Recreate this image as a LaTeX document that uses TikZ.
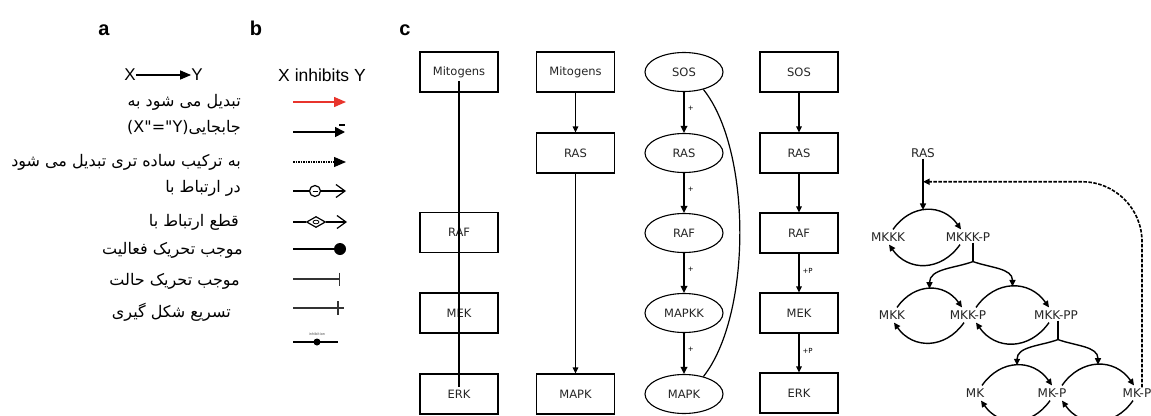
\documentclass[tikz,border=0pt]{standalone}
\usepackage{fontspec}
\setmainfont{DejaVu Sans}
\newfontfamily\arabicfont[Script=Arabic]{DejaVu Sans}
\newfontfamily\lsans{Liberation Sans}
\TeXXeTstate=1
\usetikzlibrary{arrows.meta,shapes.geometric,calc}
\begin{document}
\begin{tikzpicture}[x=1pt,y=1pt,
  boxn/.style={draw, line width=1.1pt, minimum width=78pt, minimum height=40pt, inner sep=0pt, font=\fontsize{11.5}{13}\selectfont, text=black!85},
  elln/.style={ellipse, draw, line width=1.1pt, minimum width=78pt, minimum height=39pt, inner sep=0pt, font=\fontsize{11.5}{13}\selectfont, text=black!85},
  netn/.style={inner sep=1pt, font=\fontsize{12}{13}\selectfont, text=black!85},
  arr/.style={-{Triangle[length=6pt,width=5.5pt]}, line width=1.1pt},
  narr/.style={-{Triangle[length=6.5pt,width=6pt]}, line width=1.4pt},
  arrb/.style={-{Triangle[length=7pt,width=6.5pt]}, line width=1.8pt},
  plusl/.style={font=\fontsize{7}{8}\selectfont, inner sep=1pt},
  fatext/.style={anchor=east, inner sep=0pt, font=\arabicfont\fontsize{16}{18}\selectfont},
  panl/.style={anchor=base, font=\lsans\bfseries\fontsize{20}{22}\selectfont},
  leg/.style={line width=1.3pt}
]
\useasboundingbox (0,0) rectangle (1151,-415);
\fill[white] (0,0) rectangle (1151,-415);

% panel letters
\node[panl] (pa) at (104,-35) {a};
\node[panl] (pb) at (256,-35) {b};
\node[panl] (pc) at (405,-35) {c};

% panel a
\node[font=\lsans\fontsize{17}{19}\selectfont, inner sep=0pt] (xa) at (130,-75) {X};
\node[font=\lsans\fontsize{17}{19}\selectfont, inner sep=0pt] (ya) at (197,-75) {Y};
\draw[-{Triangle[length=11pt,width=9pt]}, line width=1.2pt] (xa.east) -- (ya.west);

\node[fatext] (t1) at (241,-102) {\beginR تبدیل می شود به\endR};
\node[fatext] (t2) at (241,-128) {\beginR جابجایی\beginL(X"="Y)\endL\endR};
\node[fatext] (t3) at (241,-162) {\beginR به ترکیب ساده تری تبدیل می شود\endR};
\node[fatext] (t4) at (241,-188) {\beginR در ارتباط با\endR};
\node[fatext] (t5) at (239,-222) {\beginR قطع ارتباط با\endR};
\node[fatext] (t6) at (243,-250) {\beginR موجب تحریک فعالیت\endR};
\node[fatext] (t7) at (240,-281) {\beginR موجب تحریک حالت\endR};
\node[fatext] (t8) at (231,-312) {\beginR تسریع شکل گیری\endR};

% panel b
\node[font=\lsans\fontsize{17.5}{19}\selectfont, inner sep=0pt] (xib) at (322,-75) {X inhibits Y};
% 1 red
\coordinate (l1s) at (293,-102); \coordinate (l1e) at (346,-102);
\draw[-{Triangle[length=12pt,width=10pt]}, line width=1.4pt, color={rgb,255:red,232;green,52;blue,44}] (l1s) -- (l1e);
% 2 black with bar
\coordinate (l2s) at (293,-132); \coordinate (l2e) at (345,-132);
\draw[-{Triangle[length=10pt,width=10pt]}, line width=1.6pt] (l2s) -- (l2e);
\coordinate (l2a) at (339,-125); \coordinate (l2b) at (345,-125);
\draw[line width=1.6pt] (l2a) -- (l2b);
% 3 dotted
\coordinate (l3s) at (293,-162); \coordinate (l3e) at (346,-162);
\draw[-{Triangle[length=12pt,width=10pt]}, line width=1.2pt, dash pattern=on 1.5pt off 1pt] (l3s) -- (l3e);
% 4 circle minus
\node[circle, draw, line width=1.2pt, minimum size=11pt, inner sep=0pt] (l4c) at (315,-191) {};
\coordinate (l4s) at (293,-191); \coordinate (l4e) at (346,-191);
\draw[leg] (l4s) -- (l4c.west);
\draw[leg, -{Straight Barb[length=9pt,width=13pt,line width=1.2pt]}] (l4c.east) -- (l4e);
\draw[line width=1pt] ([xshift=-2.5pt]l4c.center) -- ([xshift=2.5pt]l4c.center);
% 5 diamond
\node[diamond, draw, line width=1.2pt, minimum width=19pt, minimum height=11pt, inner sep=0pt, aspect=1.8] (l5d) at (316,-222) {};
\coordinate (l5s) at (293,-222); \coordinate (l5e) at (347,-222);
\draw[leg] (l5s) -- (l5d.west);
\draw[leg, -{Straight Barb[length=9pt,width=13pt,line width=1.2pt]}] (l5d.east) -- (l5e);
\draw[line width=0.8pt] (l5d.center) ellipse (3pt and 1.8pt);
% 6 filled circle
\coordinate (l6s) at (293,-249);
\node[circle, fill, minimum size=12pt, inner sep=0pt] (l6c) at (340,-249) {};
\draw[line width=1.5pt] (l6s) -- (l6c);
% 7 bar
\coordinate (l7s) at (293,-279); \coordinate (l7e) at (340,-279);
\draw[line width=1.1pt, black!80, -{Bar[width=13pt,line width=1.3pt]}] (l7s) -- (l7e);
% 8 cross
\coordinate (l8s) at (293,-308); \coordinate (l8e) at (344,-308);
\draw[line width=1.1pt, black!80] (l8s) -- (l8e);
\coordinate (l8a) at (338,-301); \coordinate (l8b) at (338,-315);
\draw[line width=1.3pt, black!80] (l8a) -- (l8b);
% 9 inhibition
\coordinate (l9s) at (293,-342); \coordinate (l9e) at (338,-342);
\draw[line width=1.4pt] (l9s) -- (l9e);
\node[circle, fill, minimum size=7pt, inner sep=0pt] (l9c) at (317,-342) {};
\node[font=\fontsize{3.5}{4}\selectfont, inner sep=0pt, black!70] (l9t) at (317,-334) {inhibition};

% column 1
\node[boxn] (c1m) at (459,-72) {Mitogens};
\node[boxn] (c1r) at (459,-232.5) {RAF};
\node[boxn] (c1k) at (459,-313) {MEK};
\node[boxn] (c1e) at (459,-394) {ERK};
\draw[line width=1.4pt] ([yshift=-9pt]c1m.center) -- ([yshift=7pt]c1e.center);

% column 2
\node[boxn] (c2m) at (575.5,-72) {Mitogens};
\node[boxn] (c2r) at (575.5,-153) {RAS};
\node[boxn] (c2p) at (575.5,-394) {MAPK};
\draw[arr] (c2m) -- (c2r);
\draw[arr] (c2r) -- (c2p);

% column 3
\node[elln] (c3s) at (684,-72) {SOS};
\node[elln] (c3r) at (684,-153) {RAS};
\node[elln] (c3f) at (684,-233) {RAF};
\node[elln] (c3k) at (684,-313) {MAPKK};
\node[elln] (c3p) at (684,-394) {MAPK};
\draw[arrb] (c3s) -- node[pos=0.4, right=2pt, plusl] {+} (c3r);
\draw[arrb] (c3r) -- node[pos=0.4, right=2pt, plusl] {+} (c3f);
\draw[arrb] (c3f) -- node[pos=0.4, right=2pt, plusl] {+} (c3k);
\draw[arrb] (c3k) -- node[pos=0.4, right=2pt, plusl] {+} (c3p);
\draw[line width=1.2pt] (c3s.-42) .. controls (752,-150) and (752,-315) .. (c3p.42);

% column 4
\node[boxn] (c4s) at (799,-72) {SOS};
\node[boxn] (c4r) at (799,-153) {RAS};
\node[boxn] (c4f) at (799,-233) {RAF};
\node[boxn] (c4k) at (799,-313) {MEK};
\node[boxn] (c4e) at (799,-393) {ERK};
\draw[arr] (c4s) -- (c4r);
\draw[arr] (c4r) -- (c4f);
\draw[arr] (c4f) -- node[pos=0.45, right=2pt, plusl] {+P} (c4k);
\draw[arr] (c4k) -- node[pos=0.45, right=2pt, plusl] {+P} (c4e);

% network
\node[netn] (ras) at (923,-153) {RAS};
\node[netn] (mkkk) at (888,-237) {MKKK};
\node[netn] (mkkkp) at (968,-237) {MKKK-P};
\node[netn] (mkk) at (892,-315) {MKK};
\node[netn] (mkkp) at (968,-315) {MKK-P};
\node[netn] (mkkpp) at (1056,-315) {MKK-PP};
\node[netn] (mk) at (975,-393) {MK};
\node[netn] (mkp) at (1052,-393) {MK-P};
\node[netn] (mkp2) at (1137,-393) {MK-P};

% row 1 cycle
\draw[narr] ([xshift=5pt,yshift=2pt]mkkk.north) to[out=55,in=125,looseness=1.2] coordinate[pos=0.5] (a1) ([xshift=-7pt,yshift=2pt]mkkkp.north);
\draw[narr] ([xshift=-8pt,yshift=-2pt]mkkkp.south) to[out=-125,in=-55,looseness=1.2] ([xshift=1pt,yshift=-2pt]mkkk.south);
\draw[narr] (ras.south) -- (ras.south |- a1);
\coordinate (dj) at ($(ras.south)!0.45!(ras.south |- a1)$);

% row 2 cycles
\draw[narr] ([xshift=5pt,yshift=2pt]mkk.north) to[out=55,in=125,looseness=1.2] coordinate[pos=0.5] (a2) ([xshift=-6pt,yshift=2pt]mkkp.north);
\draw[narr] ([xshift=8pt,yshift=2pt]mkkp.north) to[out=55,in=125,looseness=1.2] coordinate[pos=0.5] (a3) ([xshift=-7pt,yshift=2pt]mkkpp.north);
\draw[narr] ([xshift=-4pt,yshift=-2pt]mkkp.south) to[out=-125,in=-55,looseness=1.2] ([xshift=2pt,yshift=-2pt]mkk.south);
\draw[narr] ([xshift=-7pt,yshift=-2pt]mkkpp.south) to[out=-125,in=-55,looseness=1.2] ([xshift=8pt,yshift=-2pt]mkkp.south);

% row 3 cycles
\draw[narr] ([xshift=7pt,yshift=2pt]mk.north) to[out=55,in=125,looseness=1.2] coordinate[pos=0.5] (a4) ([xshift=0pt,yshift=2pt]mkp.north);
\draw[narr] ([xshift=10pt,yshift=2pt]mkp.north) to[out=55,in=125,looseness=1.2] coordinate[pos=0.5] (a5) ([xshift=-3pt,yshift=2pt]mkp2.north);
\draw[narr] ([xshift=-2pt,yshift=-2pt]mkp.south) to[out=-125,in=-55,looseness=1.2] ([xshift=6pt,yshift=-2pt]mk.south);
\draw[narr] ([xshift=-4pt,yshift=-2pt]mkp2.south) to[out=-125,in=-55,looseness=1.2] ([xshift=10pt,yshift=-2pt]mkp.south);

% forks
\coordinate (j1) at ($([xshift=5pt]mkkkp.south)+(0,-19)$);
\draw[line width=1.3pt] ([xshift=5pt]mkkkp.south) -- (j1);
\draw[narr] (j1) to[out=200,in=90] (a2);
\draw[narr] (j1) to[out=-20,in=90] (a3);
\coordinate (j2) at ($([xshift=2pt]mkkpp.south)+(0,-19)$);
\draw[line width=1.3pt] ([xshift=2pt]mkkpp.south) -- (j2);
\draw[narr] (j2) to[out=200,in=90] (a4);
\draw[narr] (j2) to[out=-20,in=90] (a5);

% dashed feedback
\draw[narr, line width=1.6pt, dash pattern=on 3.5pt off 1.5pt, rounded corners=60pt] ([xshift=5pt]mkp2.north) |- (dj);
\end{tikzpicture}
\end{document}
